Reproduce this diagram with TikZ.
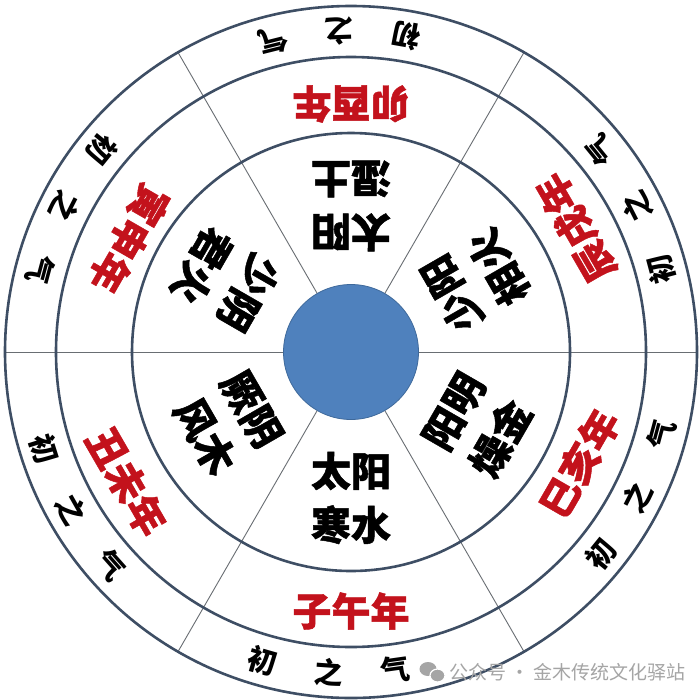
\documentclass[tikz,border=0pt]{standalone}
\usepackage{fontspec}
\newfontfamily\cjk{Noto Sans CJK SC}
\newfontfamily\cjkheavy{Noto Sans CJK SC}[BoldFeatures={FakeBold=1.2}]
\definecolor{ringc}{RGB}{62,78,100}
\definecolor{yearred}{RGB}{195,18,28}
\definecolor{diskblue}{RGB}{79,129,189}
\definecolor{diskedge}{RGB}{62,105,155}
\definecolor{divc}{RGB}{105,110,115}
\definecolor{wmgray}{RGB}{165,165,165}
\tikzset{
  ring/.style={draw=ringc,line width=2.6pt},
  divider/.style={draw=divc,line width=0.9pt},
  innertxt/.style={font=\cjkheavy\bfseries\fontsize{40}{54}\selectfont,align=center,inner sep=0pt},
  yeartxt/.style={font=\cjkheavy\bfseries\fontsize{39}{39}\selectfont,text=yearred,inner sep=0pt},
  qitxt/.style={font=\cjk\bfseries\fontsize{29}{29}\selectfont,inner sep=0pt},
  wmtxt/.style={font=\cjk\fontsize{19}{19}\selectfont,text=wmgray,inner sep=0pt,anchor=west}
}
\begin{document}
\begin{tikzpicture}[x=1pt,y=1pt]
\fill[white] (0,-699) rectangle (700,0);
\useasboundingbox (0,-699) rectangle (700,0);
\begin{scope}[shift={(351,-352)}]
  % dividers
  \foreach \a in {0,60,...,300}{
    \coordinate (din\a) at (\a:67.5);
    \coordinate (dout\a) at (\a:346);
    \draw[divider] (din\a) -- (dout\a);
  }
  % rings
  \draw[ring] (0,0) circle[radius=346];
  \draw[ring] (0,0) circle[radius=295];
  \draw[ring] (0,0) circle[radius=219];
  % centre disk
  \node[circle,fill=diskblue,draw=diskedge,line width=0.8pt,minimum size=135pt,inner sep=0pt] (disk) at (0,0) {};
  % inner texts
  \node[innertxt,rotate=0]   (inb)  at (270:146) {太阳\\寒水};
  \node[innertxt,rotate=180] (int)  at (90:146)  {太阳\\湿土};
  \node[innertxt,rotate=120] (inur) at (30:143)  {少阳\\相火};
  \node[innertxt,rotate=60]  (inlr) at (330:146) {阳明\\燥金};
  \node[innertxt,rotate=300] (inll) at (210:142) {厥阴\\风木};
  \node[innertxt,rotate=240] (inul) at (150:145) {少阴\\君火};
  % year texts
  \node[yeartxt,rotate=0]   (yb)  at (270:259) {子午年};
  \node[yeartxt,rotate=180] (yt)  at (90:248)  {卯酉年};
  \node[yeartxt,rotate=120] (yur) at (29:257)  {辰戌年};
  \node[yeartxt,rotate=60]  (ylr) at (334:254) {巳亥年};
  \node[yeartxt,rotate=300] (yll) at (210:259) {丑未年};
  \node[yeartxt,rotate=240] (yul) at (153:249) {寅申年};
  % outer texts
  \foreach \c/\n in {92/t,27/ur,333/lr,266/b,209.5/ll,153/ul}{
    \node[qitxt,rotate={\c-12+90}] (qa\n) at ({\c-12}:321) {初};
    \node[qitxt,rotate={\c+90}]    (qb\n) at ({\c}:321)    {之};
    \node[qitxt,rotate={\c+12+90}] (qc\n) at ({\c+12}:321) {气};
  }
\end{scope}
% watermark
\fill[wmgray] (428,-669) ellipse (8.5pt and 7pt);
\fill[wmgray,draw=white,line width=1.2pt] (437.5,-675.5) ellipse (7.5pt and 6.5pt);
\node[wmtxt] (wm) at (449,-672) {公众号 · 金木传统文化驿站};
\end{tikzpicture}
\end{document}
